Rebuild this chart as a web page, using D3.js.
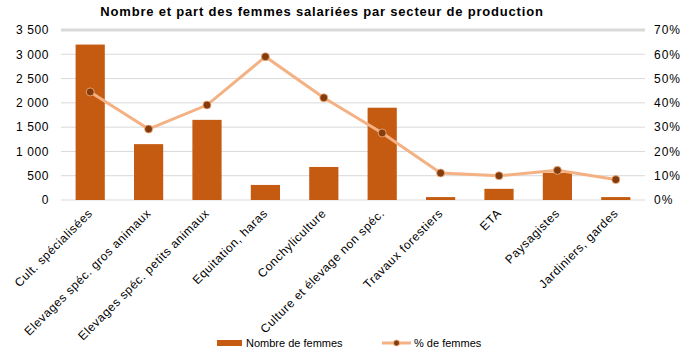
<!DOCTYPE html>
<html><head><meta charset="utf-8">
<script src="https://cdn.jsdelivr.net/npm/d3@7"></script>
<style>body{margin:0;background:#fff}svg{font-family:"Liberation Sans",Arial,sans-serif}</style>
</head><body>
<svg id="c" width="695" height="356"></svg>
<script>
const categories = ["Cult. spécialisées","Elevages spéc. gros animaux","Elevages spéc. petits animaux","Equitation, haras","Conchyliculture","Culture et élevage non spéc.","Travaux forestiers","ETA","Paysagistes","Jardiniers, gardes"];
const femmes = [3200,1150,1650,310,680,1900,60,230,560,60];
const partFemmes = [0.445,0.292,0.391,0.59,0.421,0.276,0.111,0.10,0.122,0.084];
const leftTicks = [0,500,1000,1500,2000,2500,3000,3500];
const rightTicks = [0,0.1,0.2,0.3,0.4,0.5,0.6,0.7];
const title = "Nombre et part des femmes salariées par secteur de production";

const svg = d3.select("#c");
const L=61,R=645,T=30,B=200;
const x = d3.scaleBand().domain(categories).range([L,R]).paddingInner(0.5).paddingOuter(0.25);
const y = d3.scaleLinear().domain([0,3500]).range([B,T]);
const y2 = d3.scaleLinear().domain([0,0.7]).range([B,T]);
const fmt = d => d3.format(",")(d).replace(/,/g," ");

svg.append("text").attr("x",322).attr("y",16).attr("text-anchor","middle")
  .attr("font-weight","bold").attr("font-size",13).attr("letter-spacing",0.8).attr("fill","#000").text(title);

svg.append("g").selectAll("line").data(leftTicks).join("line")
  .attr("x1",L).attr("x2",R).attr("y1",d=>y(d)).attr("y2",d=>y(d))
  .attr("stroke","#d9d9d9").attr("stroke-width",(d,i)=>i===leftTicks.length-1?3:1);

const ax = svg.append("g").attr("transform",`translate(${L},0)`)
  .call(d3.axisLeft(y).tickValues(leftTicks).tickFormat(fmt).tickSize(0).tickPadding(12));
ax.select(".domain").remove();
ax.selectAll("text").attr("font-size",12).attr("letter-spacing",0.6).attr("fill","#000").attr("font-family","Liberation Sans, Arial");

const ax2 = svg.append("g").attr("transform",`translate(${R},0)`)
  .call(d3.axisRight(y2).tickValues(rightTicks).tickFormat(d3.format(".0%")).tickSize(0).tickPadding(9));
ax2.select(".domain").remove();
ax2.selectAll("text").attr("font-size",12).attr("letter-spacing",1).attr("fill","#000").attr("font-family","Liberation Sans, Arial");

svg.append("g").selectAll("rect").data(femmes).join("rect")
  .attr("x",(d,i)=>x(categories[i])).attr("width",x.bandwidth())
  .attr("y",d=>y(d)).attr("height",d=>B-y(d)).attr("fill","#C55A11");

const cx = (d,i)=>x(categories[i])+x.bandwidth()/2;
svg.append("path").datum(partFemmes)
  .attr("d",d3.line().x(cx).y(d=>y2(d)))
  .attr("fill","none").attr("stroke","#F4B183").attr("stroke-width",3);
svg.append("g").selectAll("circle").data(partFemmes).join("circle")
  .attr("cx",cx).attr("cy",d=>y2(d)).attr("r",4)
  .attr("fill","#843C0C").attr("stroke","#F4B183").attr("stroke-width",0.8);

svg.append("g").selectAll("text").data(categories).join("text")
  .attr("transform",(d)=>`translate(${x(d)+x.bandwidth()/2+3},${B+14}) rotate(-45)`)
  .attr("text-anchor","end").attr("font-size",12).attr("letter-spacing",0.6).attr("fill","#000").text(d=>d);

// legend
svg.append("rect").attr("x",217).attr("y",340).attr("width",25).attr("height",6).attr("fill","#C55A11");
svg.append("text").attr("x",246).attr("y",347).attr("font-size",11).attr("fill","#000").text("Nombre de femmes");
svg.append("line").attr("x1",382).attr("x2",411).attr("y1",343).attr("y2",343).attr("stroke","#F4B183").attr("stroke-width",3);
svg.append("circle").attr("cx",396.5).attr("cy",343).attr("r",3).attr("fill","#843C0C").attr("stroke","#F4B183").attr("stroke-width",0.8);
svg.append("text").attr("x",414).attr("y",347).attr("font-size",11).attr("fill","#000").text("% de femmes");
</script>
</body></html>
